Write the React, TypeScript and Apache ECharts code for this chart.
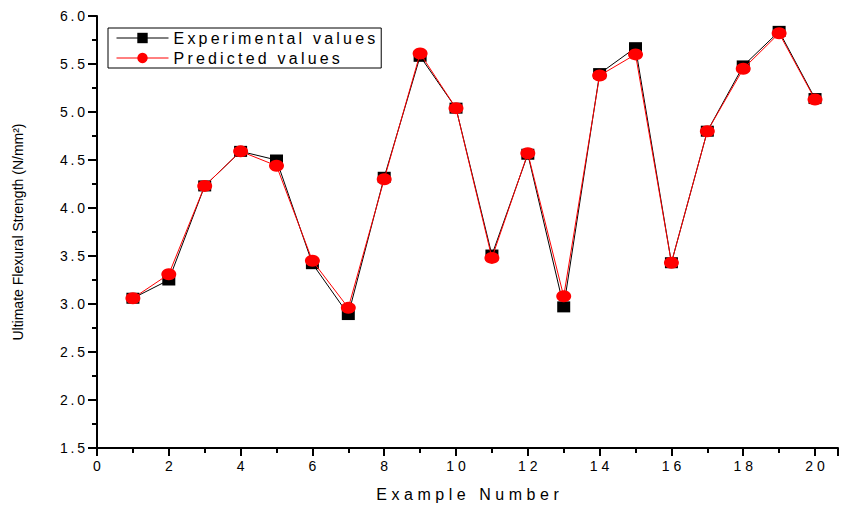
import React, { useEffect, useRef } from "react";
import * as echarts from "echarts";

const exampleNumbers = [1, 2, 3, 4, 5, 6, 7, 8, 9, 10, 11, 12, 13, 14, 15, 16, 17, 18, 19, 20];
const experimentalValues = [3.06, 3.25, 4.23, 4.59, 4.50, 3.42, 2.89, 4.32, 5.58, 5.04, 3.51, 4.56, 2.97, 5.40, 5.67, 3.43, 4.80, 5.48, 5.84, 5.14];
const predictedValues = [3.06, 3.31, 4.23, 4.59, 4.44, 3.45, 2.96, 4.30, 5.61, 5.04, 3.48, 4.57, 3.08, 5.38, 5.60, 3.43, 4.80, 5.45, 5.82, 5.13];
const seriesNames = ["Experimental values", "Predicted values"];
const xAxisTitle = "Example Number";
const yAxisTitle = "Ultimate Flexural Strength (N/mm²)";

const spaced = (s: string, sep = "\u2009") => s.split("").join(sep);
const FONT = "Liberation Sans, Arial, sans-serif";

export default function App() {
  const ref = useRef<HTMLDivElement>(null);
  useEffect(() => {
    if (!ref.current) return;
    const chart = echarts.init(ref.current, undefined, { renderer: "svg" });
    const expData = exampleNumbers.map((x, i) => [x, experimentalValues[i]]);
    const predData = exampleNumbers.map((x, i) => [x, predictedValues[i]]);
    chart.setOption({
      animation: false,
      backgroundColor: "#fff",
      textStyle: { fontFamily: FONT, color: "#000" },
      grid: { left: 97, top: 16, right: 5, bottom: 59, containLabel: false },
      legend: {
        orient: "vertical",
        left: 108,
        top: 28,
        borderColor: "#000",
        borderWidth: 1,
        borderRadius: 0,
        padding: [2, 6, 2, 8],
        itemWidth: 52,
        itemHeight: 13,
        itemGap: 4,
        data: seriesNames,
        lineStyle: { width: 1 },
        formatter: (n: string) => spaced(n),
        textStyle: { fontFamily: FONT, fontSize: 16, color: "#000" },
      },
      xAxis: {
        type: "value",
        min: 0,
        max: 20.64,
        interval: 2,
        name: spaced(xAxisTitle, "\u2009\u200A"),
        nameLocation: "middle",
        nameGap: 38,
        nameTextStyle: { fontFamily: FONT, fontSize: 16, color: "#000" },
        axisLine: { lineStyle: { color: "#000", width: 2 } },
        axisTick: { show: true, length: 8, lineStyle: { color: "#000", width: 2 } },
        minorTick: { show: true, splitNumber: 2, length: 5, lineStyle: { color: "#000", width: 2 } },
        splitLine: { show: false },
        minorSplitLine: { show: false },
        axisLabel: {
          margin: 11,
          fontFamily: FONT,
          fontSize: 14,
          color: "#000",
          showMaxLabel: false,
          formatter: (v: number) => (Math.abs(v - Math.round(v)) < 1e-6 && Math.round(v) % 2 === 0 ? spaced(String(Math.round(v)), "\u2009\u200A") : ""),
        },
      },
      yAxis: {
        type: "value",
        min: 1.5,
        max: 6.0,
        interval: 0.5,
        name: yAxisTitle,
        nameLocation: "middle",
        nameGap: 72,
        nameTextStyle: { fontFamily: FONT, fontSize: 14, color: "#000" },
        axisLine: { show: true, lineStyle: { color: "#000", width: 2 } },
        axisTick: { show: true, length: 9, lineStyle: { color: "#000", width: 2 } },
        minorTick: { show: true, splitNumber: 2, length: 5, lineStyle: { color: "#000", width: 2 } },
        splitLine: { show: false },
        minorSplitLine: { show: false },
        axisLabel: {
          margin: 12,
          fontFamily: FONT,
          fontSize: 14,
          color: "#000",
          formatter: (v: number) => spaced(v.toFixed(1)),
        },
      },
      series: [
        {
          name: seriesNames[0],
          type: "line",
          data: expData,
          symbol: "rect",
          symbolSize: [13, 11],
          itemStyle: { color: "#000" },
          lineStyle: { color: "#000", width: 1 },
          z: 2,
        },
        {
          name: seriesNames[1],
          type: "line",
          data: predData,
          symbol: "circle",
          symbolSize: [15, 12],
          itemStyle: { color: "#ff0000" },
          lineStyle: { color: "#ff0000", width: 1 },
          z: 3,
        },
      ],
    });
    return () => chart.dispose();
  }, []);
  return <div ref={ref} style={{ position: "fixed", left: 0, top: 0, width: 843, height: 507 }} />;
}
